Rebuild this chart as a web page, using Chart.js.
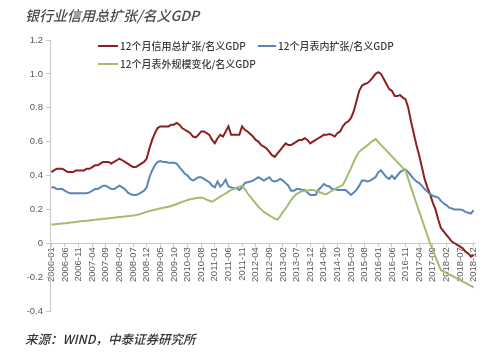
<!DOCTYPE html>
<html>
<head>
<meta charset="utf-8">
<script src="https://cdn.jsdelivr.net/npm/chart.js@4/dist/chart.umd.min.js"></script>
<style>
  html, body { margin: 0; padding: 0; background: #fff; }
  #wrap { position: relative; width: 500px; height: 355px; overflow: hidden; background: #fff; }
  #c { position: absolute; left: 0; top: 0; }
  .title { position: absolute; left: 25px; top: 5px; font: italic 500 14px "Noto Sans CJK SC", sans-serif; color: #4a4a4a; white-space: nowrap; }
  .source { position: absolute; left: 25px; top: 329px; font: italic 500 12.5px "Noto Sans CJK SC", sans-serif; color: #333; white-space: nowrap; }
  .lg { position: absolute; font: 500 10px "Noto Sans CJK SC", sans-serif; color: #3a3a3a; white-space: nowrap; line-height: 14px; }
  .ln { position: absolute; height: 2px; }
</style>
</head>
<body>
<div id="wrap">
  <canvas id="c" width="500" height="355"></canvas>
  <div class="title">银行业信用总扩张/名义GDP</div>
  <div class="ln" style="left:98px;top:45px;width:20px;background:#8e1f1f"></div>
  <div class="lg" style="left:120px;top:39px">12个月信用总扩张/名义GDP</div>
  <div class="ln" style="left:258px;top:45px;width:18px;background:#5a85b8"></div>
  <div class="lg" style="left:278px;top:39px">12个月表内扩张/名义GDP</div>
  <div class="ln" style="left:98px;top:63px;width:20px;background:#a3bd70"></div>
  <div class="lg" style="left:120px;top:57px">12个月表外规模变化/名义GDP</div>
  <div class="source">来源：WIND，中泰证券研究所</div>
</div>
<script>
// Categories: monthly 2006-01 .. 2018-12
const categories = [];
for (let y = 2006; y <= 2018; y++) {
  for (let m = 1; m <= 12; m++) categories.push(y + '-' + (m < 10 ? '0' + m : m));
}
const tickEvery = 5;

const seriesNames = ['12个月信用总扩张/名义GDP', '12个月表内扩张/名义GDP', '12个月表外规模变化/名义GDP'];

const totalCredit = [
  0.42,0.43,0.44,0.44,0.44,0.43,0.42,0.42,0.42,0.43,
  0.43,0.43,0.43,0.44,0.44,0.45,0.46,0.46,0.47,0.48,
  0.48,0.48,0.47,0.48,0.49,0.50,0.49,0.48,0.47,0.46,
  0.45,0.45,0.46,0.47,0.48,0.50,0.56,0.61,0.65,0.68,
  0.69,0.69,0.69,0.69,0.70,0.70,0.71,0.70,0.68,0.67,
  0.66,0.65,0.63,0.625,0.64,0.66,0.66,0.65,0.64,0.61,
  0.59,0.62,0.64,0.63,0.66,0.69,0.64,0.64,0.64,0.64,
  0.69,0.67,0.66,0.645,0.63,0.61,0.60,0.58,0.57,0.56,
  0.54,0.52,0.51,0.53,0.55,0.57,0.59,0.58,0.58,0.59,
  0.60,0.61,0.61,0.62,0.61,0.59,0.60,0.61,0.62,0.63,
  0.64,0.64,0.645,0.64,0.63,0.65,0.66,0.69,0.71,0.72,
  0.74,0.78,0.84,0.90,0.93,0.94,0.945,0.96,0.98,1.00,
  1.01,1.00,0.97,0.94,0.91,0.90,0.87,0.87,0.875,0.86,
  0.85,0.80,0.72,0.65,0.58,0.52,0.45,0.38,0.33,0.29,
  0.24,0.20,0.14,0.09,0.07,0.05,0.03,0.01,0.00,-0.01,
  -0.02,-0.03,-0.05,-0.06,-0.08,-0.07
];

const onBalance = [
  0.33,0.33,0.32,0.32,0.32,0.31,0.30,0.295,0.295,0.295,
  0.295,0.295,0.295,0.295,0.30,0.31,0.32,0.32,0.33,0.34,
  0.34,0.33,0.32,0.32,0.33,0.34,0.33,0.32,0.30,0.29,
  0.285,0.285,0.29,0.30,0.31,0.33,0.39,0.43,0.46,0.48,
  0.485,0.48,0.48,0.475,0.475,0.475,0.47,0.45,0.43,0.41,
  0.40,0.38,0.37,0.38,0.39,0.39,0.38,0.37,0.36,0.34,
  0.33,0.365,0.335,0.35,0.375,0.335,0.33,0.325,0.325,0.315,
  0.33,0.355,0.36,0.365,0.37,0.38,0.39,0.38,0.37,0.38,
  0.39,0.37,0.365,0.37,0.38,0.37,0.355,0.34,0.31,0.31,
  0.32,0.32,0.315,0.315,0.30,0.285,0.285,0.285,0.315,0.33,
  0.35,0.34,0.335,0.32,0.32,0.315,0.315,0.315,0.315,0.30,
  0.285,0.30,0.315,0.34,0.37,0.37,0.365,0.37,0.38,0.39,
  0.42,0.43,0.41,0.39,0.38,0.40,0.38,0.40,0.42,0.43,
  0.435,0.42,0.40,0.38,0.365,0.355,0.34,0.32,0.305,0.29,
  0.28,0.275,0.27,0.25,0.235,0.225,0.21,0.205,0.20,0.20,
  0.20,0.195,0.185,0.18,0.175,0.195
];

const offBalance = [
  0.110,0.111,0.113,0.115,0.117,0.118,0.120,0.122,0.124,0.126,
  0.128,0.130,0.132,0.133,0.135,0.137,0.138,0.140,0.142,0.144,
  0.145,0.147,0.149,0.151,0.153,0.155,0.156,0.158,0.160,0.162,
  0.164,0.166,0.170,0.175,0.180,0.185,0.190,0.194,0.198,0.202,
  0.206,0.209,0.212,0.216,0.220,0.226,0.232,0.238,0.244,0.250,
  0.255,0.260,0.263,0.266,0.268,0.270,0.265,0.258,0.251,0.245,
  0.255,0.265,0.275,0.285,0.295,0.305,0.315,0.322,0.328,0.334,
  0.340,0.320,0.295,0.275,0.255,0.235,0.215,0.200,0.185,0.175,
  0.165,0.155,0.145,0.140,0.160,0.185,0.205,0.230,0.255,0.275,
  0.290,0.300,0.307,0.310,0.312,0.314,0.315,0.310,0.304,0.298,
  0.292,0.290,0.300,0.310,0.320,0.328,0.336,0.345,0.375,0.410,
  0.445,0.480,0.515,0.540,0.553,0.566,0.579,0.592,0.605,0.615,
  0.598,0.581,0.564,0.547,0.530,0.513,0.496,0.479,0.462,0.445,
  0.430,0.380,0.330,0.283,0.235,0.188,0.141,0.094,0.047,0.000,
  -0.040,-0.080,-0.120,-0.160,-0.168,-0.176,-0.184,-0.192,-0.200,-0.209,
  -0.217,-0.226,-0.234,-0.243,-0.251,-0.260
];

const yTicks = [-0.4, -0.2, 0, 0.2, 0.4, 0.6, 0.8, 1, 1.2];

const axisColor = '#c8c8c8';
const labelColor = '#595959';

new Chart(document.getElementById('c'), {
  type: 'line',
  data: {
    labels: categories,
    datasets: [
      { label: seriesNames[0], data: totalCredit, borderColor: '#8e1f1f', borderWidth: 2, pointRadius: 0, tension: 0, order: 2 },
      { label: seriesNames[1], data: onBalance, borderColor: '#5a85b8', borderWidth: 2, pointRadius: 0, tension: 0, order: 1 },
      { label: seriesNames[2], data: offBalance, borderColor: '#a3bd70', borderWidth: 2, pointRadius: 0, tension: 0, order: 0 }
    ]
  },
  options: {
    responsive: false,
    animation: false,
    devicePixelRatio: 1,
    layout: { padding: { left: 0, right: 25, top: 40, bottom: 44 } },
    plugins: { legend: { display: false }, tooltip: { enabled: false }, title: { display: false } },
    scales: {
      x: {
        type: 'category',
        position: { y: 0 },
        offset: true,
        afterFit: (s) => { s.height = 0; },
        border: { display: true, color: axisColor, width: 1 },
        grid: {
          offset: false,
          drawOnChartArea: false,
          drawTicks: true,
          tickLength: 3,
          color: (ctx) => (ctx.index % tickEvery === 0 ? axisColor : 'rgba(0,0,0,0)')
        },
        ticks: {
          autoSkip: false,
          maxRotation: 90,
          minRotation: 90,
          padding: 1,
          color: labelColor,
          font: { family: 'Liberation Sans', size: 9.5 },
          callback: function (v, i) { return i % tickEvery === 0 ? categories[i] : ''; }
        }
      },
      y: {
        min: -0.4,
        max: 1.2,
        afterFit: (s) => { s.width = 50; },
        afterBuildTicks: (s) => { s.ticks = yTicks.map(v => ({ value: v })); },
        border: { display: true, color: axisColor, width: 1 },
        grid: { drawOnChartArea: false, drawTicks: true, tickLength: 4, color: axisColor },
        ticks: {
          padding: 3,
          color: labelColor,
          font: { family: 'Liberation Sans', size: 9.5 }
        }
      }
    }
  }
});
</script>
</body>
</html>
